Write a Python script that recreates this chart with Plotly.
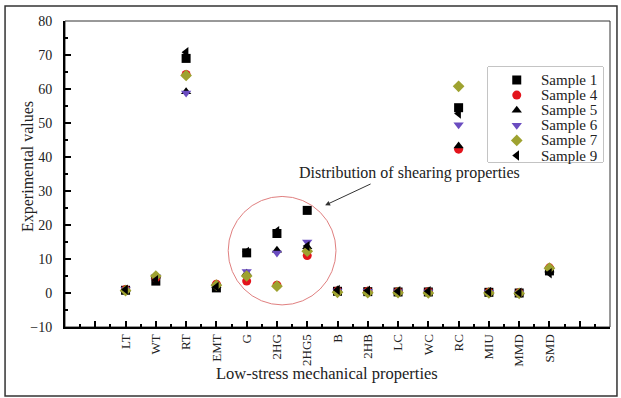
import plotly.graph_objects as go

categories = ["LT", "WT", "RT", "EMT", "G", "2HG", "2HG5", "B", "2HB", "LC", "WC", "RC", "MIU", "MMD", "SMD"]

sample1 = [0.8, 3.5, 69.0, 1.5, 11.8, 17.5, 24.3, 0.5, 0.4, 0.3, 0.3, 54.5, 0.2, 0.0, 6.5]
sample4 = [1.0, 4.5, 64.3, 2.6, 3.5, 2.3, 11.0, 0.6, 0.5, 0.4, 0.4, 42.3, 0.25, 0.05, 7.4]
sample5 = [1.1, 5.0, 59.2, 2.2, 5.8, 12.6, 13.6, 0.9, 0.6, 0.5, 0.5, 43.2, 0.3, 0.05, 6.8]
sample6 = [1.0, 4.8, 58.8, 2.0, 6.3, 11.8, 15.0, 0.6, 0.5, 0.4, 0.3, 49.5, 0.2, 0.0, 6.8]
sample7 = [0.7, 5.0, 64.0, 2.3, 5.0, 2.0, 12.3, 0.2, 0.1, 0.1, 0.0, 60.8, 0.0, -0.1, 7.3]
sample9 = [1.0, 3.8, 70.8, 1.8, 12.1, 18.2, 13.8, 0.9, 0.7, 0.5, 0.5, 52.8, 0.3, 0.1, 5.8]

names = ["Sample 1", "Sample 4", "Sample 5", "Sample 6", "Sample 7", "Sample 9"]
values = [sample1, sample4, sample5, sample6, sample7, sample9]
symbols = ["square", "circle", "triangle-up", "triangle-down", "diamond", "triangle-left"]
colors = ["black", "#e3141c", "black", "#6a4cc0", "#9ea230", "black"]

xpos = list(range(1, len(categories) + 1))
FONT = "Liberation Serif"

fig = go.Figure()
for name, vals, sym, col in zip(names, values, symbols, colors):
    fig.add_trace(go.Scatter(
        x=xpos, y=vals, mode="markers", name=name, showlegend=False,
        marker=dict(symbol=sym, color=col, size=9, line=dict(width=0)),
    ))

# custom compact legend drawn on its own small axis pair
idx = list(range(len(names)))
fig.add_trace(go.Scatter(
    x=[0.25] * len(names), y=idx, mode="markers", xaxis="x2", yaxis="y2",
    showlegend=False, hoverinfo="skip",
    marker=dict(symbol=symbols, color=colors, size=9, line=dict(width=0)),
))
for i, name in zip(idx, names):
    fig.add_annotation(x=0.44, y=i, xref="x2", yref="y2", text=name, showarrow=False,
                       xanchor="left", yanchor="middle",
                       font=dict(family=FONT, size=15, color="#222"))

tickvals = list(range(-1, len(categories) + 3))
ticktext = ["" if (v < 1 or v > len(categories)) else categories[v - 1] for v in tickvals]

LX0, LX1 = (488 - 65) / 545, (603 - 65) / 545
LY0, LY1 = (327 - 162) / 306, (327 - 67) / 306

fig.update_layout(
    width=621, height=398,
    margin=dict(l=65, r=11, t=21, b=71),
    paper_bgcolor="white", plot_bgcolor="white",
    font=dict(family=FONT, color="#222", size=13),
    showlegend=False,
    xaxis=dict(
        range=[-1, 17], tickmode="array", tickvals=tickvals, ticktext=ticktext,
        tickangle=-90, ticks="inside", ticklen=6, tickwidth=2, tickcolor="black",
        showline=True, linecolor="black", linewidth=2, showgrid=False, zeroline=False,
        tickfont=dict(family=FONT, size=13, color="#222"),
        minor=dict(ticks="inside", ticklen=3, tickwidth=2, tickcolor="black",
                   tickmode="linear", tick0=-0.5, dtick=1, showgrid=False),
    ),
    yaxis=dict(
        range=[-10, 80], tickmode="linear", tick0=-10, dtick=10,
        ticks="inside", ticklen=6, tickwidth=2, tickcolor="black",
        showline=True, linecolor="black", linewidth=2, showgrid=False, zeroline=False,
        tickfont=dict(family=FONT, size=14, color="#222"),
        ticklabelstandoff=8,
        minor=dict(ticks="inside", ticklen=3, tickwidth=2, tickcolor="black",
                   tickmode="linear", tick0=-5, dtick=10, showgrid=False),
    ),
    xaxis2=dict(domain=[LX0, LX1], range=[0, 1], anchor="y2", visible=False, fixedrange=True),
    yaxis2=dict(domain=[LY0, LY1], range=[5.43, -0.86], anchor="x2", visible=False, fixedrange=True),
)

# legend box
fig.add_shape(type="rect", xref="paper", yref="paper", x0=LX0, y0=LY0, x1=LX1, y1=LY1,
              line=dict(color="#888", width=1), fillcolor="white", layer="below")
# frame lines top/right
fig.add_shape(type="rect", xref="paper", yref="paper", x0=0, y0=0, x1=1, y1=1,
              line=dict(color="#333", width=1), layer="below")
# outer border of figure
fig.add_shape(type="rect", xref="paper", yref="paper", x0=-0.110, y0=-0.2255, x1=1.0128, y1=1.049,
              line=dict(color="#333", width=1.5))
# highlight circle
fig.add_shape(type="circle", xref="x", yref="y", x0=4.39, x1=7.95, y0=-3.5, y1=28.4,
              line=dict(color="#e08080", width=1))

fig.add_annotation(x=(409 - 65) / 545, y=(327 - 173) / 306, xref="paper", yref="paper",
                   text="Distribution of shearing properties", showarrow=False,
                   xanchor="center", yanchor="middle",
                   font=dict(family=FONT, size=16, color="#222"))
fig.add_annotation(x=7.59, y=25.8, xref="x", yref="y", ax=47, ay=-22, text="",
                   showarrow=True, arrowhead=2, arrowsize=1, arrowwidth=1, arrowcolor="#333")

fig.add_annotation(x=(327 - 65) / 545, y=(327 - 374) / 306, xref="paper", yref="paper",
                   text="Low-stress mechanical properties", showarrow=False,
                   xanchor="center", yanchor="middle",
                   font=dict(family=FONT, size=16.5, color="#222"))
fig.add_annotation(x=(28 - 65) / 545, y=(327 - 167) / 306, xref="paper", yref="paper",
                   text="Experimental values", showarrow=False, textangle=-90,
                   xanchor="center", yanchor="middle",
                   font=dict(family=FONT, size=16, color="#222"))

fig.write_html("out.html")
